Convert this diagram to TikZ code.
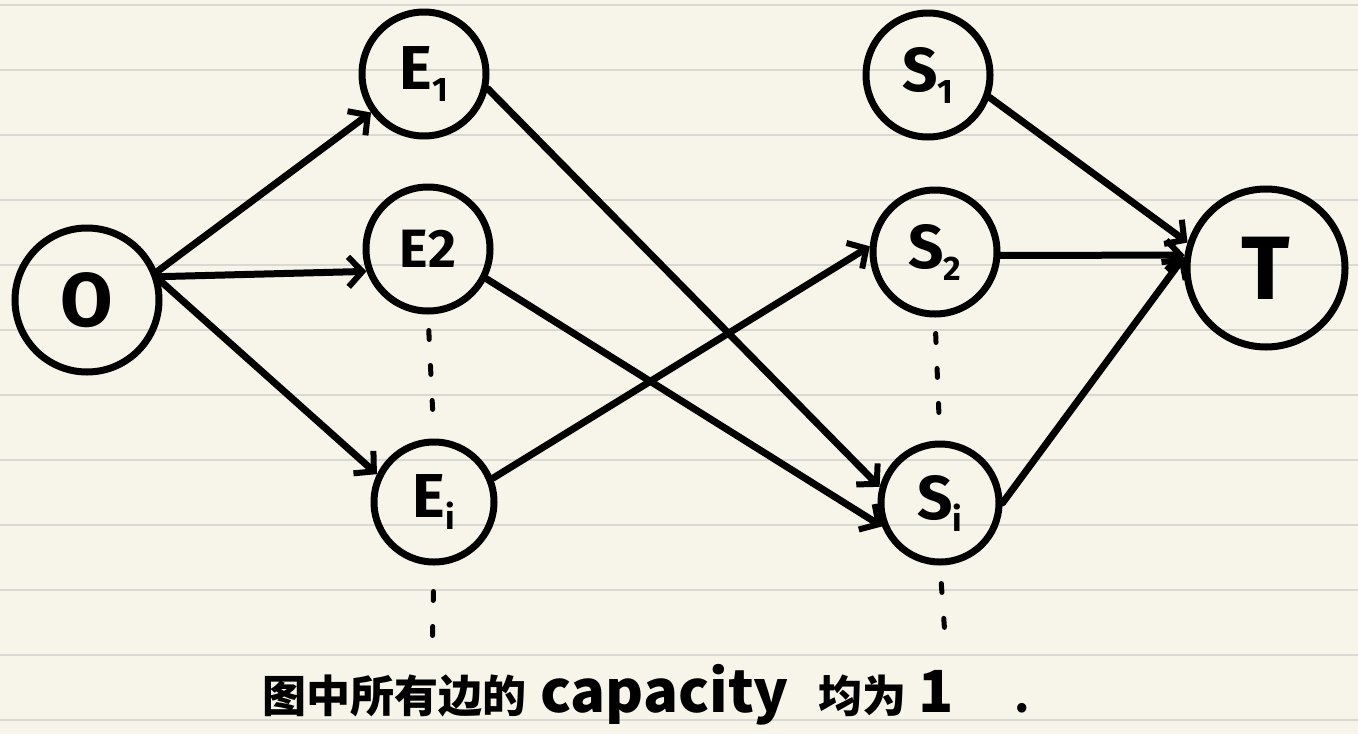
\documentclass[tikz,border=0pt]{standalone}
\usepackage{fontspec}
\setmainfont{Fira Sans}
\newfontfamily\cjk{Noto Sans CJK SC}
\usetikzlibrary{arrows.meta}
\definecolor{paper}{HTML}{F7F5E9}
\definecolor{rule}{HTML}{D9D8D2}
\newcommand\lab[3]{\fontsize{#3}{#3}\selectfont #1\raisebox{-12pt}{\fontsize{34}{34}\selectfont #2}}
\tikzset{
  vert/.style={circle, draw=black, line width=7pt, inner sep=0pt, font=\bfseries},
  edge/.style={line width=7pt, line cap=round, -{Straight Barb[length=14pt,width=30pt,line width=6pt]}},
  dotline/.style={line width=5pt, line cap=round, dash pattern=on 9pt off 26pt},
}
\begin{document}
\begin{tikzpicture}[x=1pt,y=-1pt]
\useasboundingbox (0,0) rectangle (1358,734);
\fill[paper] (0,0) rectangle (1358,734);
\foreach \yy in {5,70,...,720} \draw[rule, line width=2.5pt] (0,\yy) -- (1358,\yy);

\node[vert, minimum size=144pt] (O) at (87,300) {\fontsize{76}{76}\selectfont O};
\node[vert, minimum size=124pt] (E1) at (424,74) {\lab{E}{1}{62}};
\node[vert, minimum size=124pt] (E2) at (428,249) {\fontsize{54}{54}\selectfont E2};
\node[vert, minimum size=120pt] (Ei) at (434,502) {\lab{E}{i}{62}};
\node[vert, minimum size=124pt] (S1) at (928,75) {\lab{S}{1}{62}};
\node[vert, minimum size=124pt] (S2) at (935,252) {\lab{S}{2}{62}};
\node[vert, minimum size=118pt] (Si) at (940,503) {\lab{S}{i}{62}};
\node[vert, minimum size=158pt] (T) at (1266,268) {\fontsize{90}{90}\selectfont T};

\draw[edge] (O.22) -- (E1.216);
\draw[edge] (O.18) -- (E2.200);
\draw[edge] (O.15) -- (Ei.154);
\draw[edge] (E1.-13) -- (Si.165);
\draw[edge] (E2.-27) -- (Si.202);
\draw[edge] (Ei.22) -- (S2.175);
\draw[edge] (S1.-20) -- (T.162);
\draw[edge] (S2.-3) -- (T.171);
\draw[edge] (Si.0) -- (T.172);

\coordinate (Ebot) at (432,660);
\coordinate (Sbot) at (946,650);
\draw[dotline, shorten <=16pt, shorten >=12pt] (E2.south) -- (Ei.north);
\draw[dotline, shorten <=26pt] (Ei.south) -- (Ebot);
\draw[dotline, shorten <=16pt, shorten >=12pt] (S2.south) -- (Si.north);
\draw[dotline, shorten <=18pt] (Si.south) -- (Sbot);

\node[anchor=base west, inner sep=0pt, font=\cjk\bfseries] (cap) at (262,712) {\fontsize{44}{44}\selectfont 图中所有边的\hspace{14pt}{\fontsize{58}{58}\selectfont capacity}\hspace{30pt}均为\hspace{12pt}{\fontsize{58}{58}\selectfont 1}\hspace{60pt}.};
\end{tikzpicture}
\end{document}
